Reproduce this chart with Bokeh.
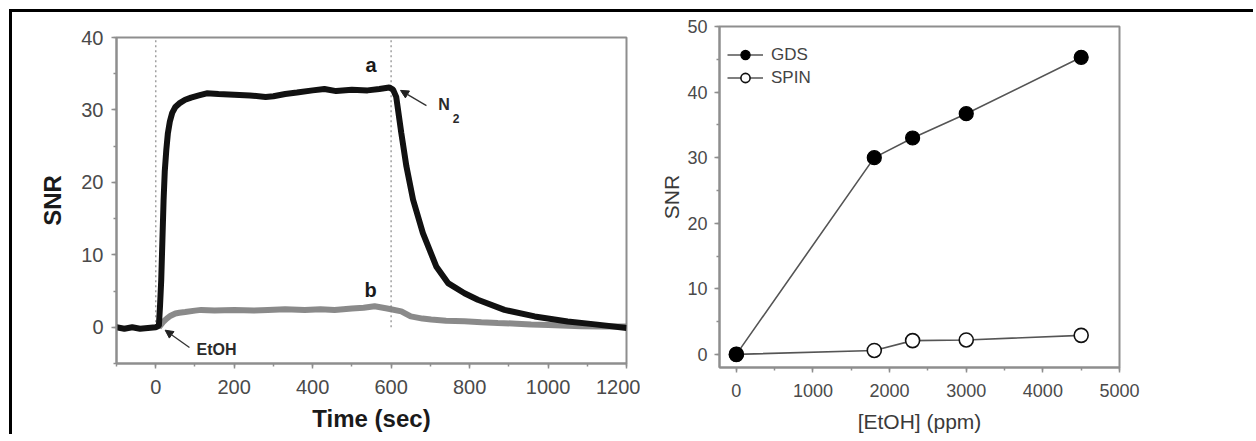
from bokeh.plotting import figure
from bokeh.layouts import row
from bokeh.models import (SingleIntervalTicker, Range1d, Arrow, NormalHead,
                          Legend, LegendItem)
from bokeh.core.properties import value
from bokeh.embed import file_html
from bokeh.resources import INLINE

FONT = "Liberation Sans"

# ---------------- left panel: SNR response vs time ----------------
time_a = [-100, -80, -60, -40, -20, 0, 8, 11, 14, 17, 20, 23, 27, 31, 36, 42, 50,
          60, 75, 90, 110, 130, 160, 200, 240, 280, 300, 330, 360, 400, 430, 460,
          500, 540, 570, 595, 605, 613, 626, 639, 656, 681, 715, 745, 787, 821,
          889, 966, 1050, 1120, 1200]
snr_a = [0.0, -0.2, 0.0, -0.2, -0.1, 0.0, 0.2, 3.0, 6.5, 12.0, 17.5, 21.5, 24.5,
         26.8, 28.4, 29.6, 30.4, 30.9, 31.4, 31.7, 32.0, 32.3, 32.2, 32.1, 32.0,
         31.8, 31.9, 32.2, 32.4, 32.7, 32.9, 32.6, 32.8, 32.7, 32.9, 33.1, 32.8,
         31.8, 26.8, 22.2, 17.6, 13.0, 8.4, 6.1, 4.7, 3.8, 2.4, 1.5, 0.8, 0.4, -0.1]

time_b = [8, 14, 20, 28, 38, 50, 60, 75, 100, 116, 150, 200, 250, 286, 330, 380,
          420, 456, 500, 530, 558, 590, 626, 650, 680, 702, 740, 787, 830, 872,
          920, 957, 1000, 1085, 1140, 1200]
snr_b = [0.0, 0.4, 0.8, 1.2, 1.6, 1.9, 2.0, 2.1, 2.3, 2.4, 2.3, 2.4, 2.3, 2.4,
         2.5, 2.4, 2.5, 2.4, 2.6, 2.7, 2.9, 2.6, 2.2, 1.5, 1.2, 1.06, 0.9, 0.83,
         0.7, 0.6, 0.5, 0.37, 0.3, 0.14, 0.1, 0.1]

event_times = [0, 600]
event_low = [0, 0]
event_high = [40, 40]

curve_names = ["a", "b"]
curve_name_x = [549, 548]
curve_name_y = [36.2, 5.2]

gas_in = "EtOH"
gas_in_x, gas_in_y = 104, -3.1
gas_in_arrow = (86, -2.8, 24, -0.4)

gas_out_main, gas_out_sub = "N", "2"
gas_out_x, gas_out_y = 720, 30.7
gas_out_sub_x, gas_out_sub_y = 757, 29.4
gas_out_arrow = (690, 30.6, 624, 32.7)

# ---------------- right panel: SNR vs concentration ----------------
etoh_ppm = [0, 1800, 2300, 3000, 4500]
snr_gds = [0, 30.0, 33.0, 36.7, 45.3]
snr_spin = [0, 0.6, 2.1, 2.2, 2.9]
series_names = ["GDS", "SPIN"]

AX = "#8e8e8e"
LAB = "#4a4a4a"


def style_axes(p, label_size, xstand, ystand):
    for ax in (p.xaxis, p.yaxis):
        ax.axis_line_color = AX
        ax.axis_line_width = 2
        ax.major_tick_line_color = AX
        ax.minor_tick_line_color = AX
        ax.major_tick_line_width = 1.5
        ax.minor_tick_line_width = 1.5
        ax.major_tick_in = 0
        ax.major_tick_out = 5
        ax.minor_tick_in = 0
        ax.minor_tick_out = 3
        ax.major_label_text_font = FONT
        ax.major_label_text_font_size = label_size
        ax.major_label_text_color = LAB
        ax.axis_label_text_font = FONT
    p.xaxis.major_label_standoff = xstand
    p.yaxis.major_label_standoff = ystand
    p.outline_line_color = AX
    p.outline_line_width = 2
    p.xgrid.visible = False
    p.ygrid.visible = False
    p.frame_align = False


p1 = figure(width=628, height=425, output_backend="svg", toolbar_location=None,
            x_range=Range1d(-100, 1200), y_range=Range1d(-5, 40),
            min_border_left=104, min_border_right=14, min_border_top=25,
            min_border_bottom=74)
p1.xaxis.ticker = SingleIntervalTicker(interval=200, num_minor_ticks=2)
p1.yaxis.ticker = SingleIntervalTicker(interval=10, num_minor_ticks=2)
style_axes(p1, "20px", 11, 8)
p1.xaxis.axis_label = "Time (sec)"
p1.yaxis.axis_label = "SNR"
for ax in (p1.xaxis, p1.yaxis):
    ax.axis_label_text_font_size = "24px"
    ax.axis_label_text_font_style = "bold"
    ax.axis_label_text_color = "#1a1a1a"
p1.xaxis.axis_label_standoff = 8
p1.yaxis.axis_label_standoff = 12

p1.segment(x0=event_times, y0=event_low, x1=event_times, y1=event_high,
           line_color="#a0a0a0", line_width=1.5, line_dash="2 3")
p1.line(time_b, snr_b, line_color="#7d7d7d", line_width=6, line_alpha=0.9)
p1.line(time_a, snr_a, line_color="#111111", line_width=6)

p1.text(x=curve_name_x, y=curve_name_y, text=curve_names,
        text_font=value(FONT), text_font_size="20px", text_font_style="bold",
        text_align="center", text_baseline="middle", text_color="#1a1a1a")
p1.text(x=[gas_in_x], y=[gas_in_y], text=[gas_in], text_font=value(FONT),
        text_font_size="16px", text_font_style="bold", text_align="left",
        text_baseline="middle", text_color="#2a2a2a")
p1.text(x=[gas_out_x], y=[gas_out_y], text=[gas_out_main], text_font=value(FONT),
        text_font_size="16px", text_font_style="bold", text_align="left",
        text_baseline="middle", text_color="#2a2a2a")
p1.text(x=[gas_out_sub_x], y=[gas_out_sub_y], text=[gas_out_sub],
        text_font=value(FONT), text_font_size="12px", text_font_style="bold",
        text_align="left", text_baseline="top", text_color="#2a2a2a")
for (x0, y0, x1, y1) in (gas_in_arrow, gas_out_arrow):
    p1.add_layout(Arrow(end=NormalHead(size=8, fill_color="#222222",
                                       line_color="#222222"),
                        x_start=x0, y_start=y0, x_end=x1, y_end=y1,
                        line_color="#333333", line_width=1.3))

# ---------------- right panel ----------------
p2 = figure(width=616, height=425, output_backend="svg", toolbar_location=None,
            x_range=Range1d(-220, 5000), y_range=Range1d(-2, 50),
            min_border_left=79, min_border_right=137, min_border_top=14,
            min_border_bottom=70)
p2.xaxis.ticker = SingleIntervalTicker(interval=1000, num_minor_ticks=2)
p2.yaxis.ticker = SingleIntervalTicker(interval=10, num_minor_ticks=2)
style_axes(p2, "18px", 11, 7)
p2.xaxis.axis_label = "[EtOH] (ppm)"
p2.yaxis.axis_label = "SNR"
for ax in (p2.xaxis, p2.yaxis):
    ax.axis_label_text_font_size = "21px"
    ax.axis_label_text_font_style = "normal"
    ax.axis_label_text_color = "#3a3a3a"
p2.xaxis.axis_label_standoff = 10
p2.yaxis.axis_label_standoff = 1

l_spin = p2.line(etoh_ppm, snr_spin, line_color="#555555", line_width=1.6)
s_spin = p2.scatter(etoh_ppm, snr_spin, size=14, marker="circle",
                    fill_color="white", line_color="#111111", line_width=1.6)
l_gds = p2.line(etoh_ppm, snr_gds, line_color="#555555", line_width=1.6)
s_gds = p2.scatter(etoh_ppm, snr_gds, size=14, marker="circle",
                   fill_color="black", line_color="black", line_width=1.2)

legend = Legend(items=[LegendItem(label=series_names[0], renderers=[l_gds, s_gds]),
                       LegendItem(label=series_names[1], renderers=[l_spin, s_spin])],
                location=(8, 278), margin=0, padding=0, spacing=0,
                glyph_width=36, glyph_height=23, label_height=23,
                label_standoff=8, border_line_alpha=0, background_fill_alpha=0,
                label_text_font=FONT, label_text_font_size="17px",
                label_text_color="#444444")
p2.add_layout(legend)

layout = row(p1, p2, styles={"box-shadow": "-3px -3px 0 0 black",
                             "margin-left": "12px", "margin-top": "12px"})

open("out.html", "w").write(file_html(layout, INLINE))
